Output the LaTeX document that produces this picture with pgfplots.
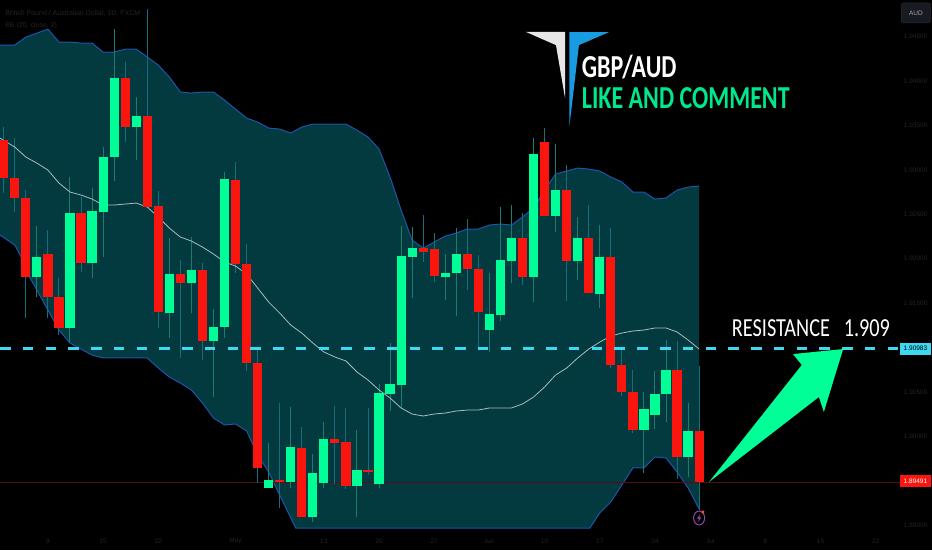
\documentclass[border=0pt]{standalone}
\usepackage{fontspec}
\usepackage{pgfplots}
\usepackage{pgfplotstable}
\pgfplotsset{compat=1.18}
\usepgfplotslibrary{fillbetween}
\setmainfont{Liberation Sans}
\newfontfamily\banner{Carlito}

\definecolor{bandfill}{RGB}{2,58,64}
\definecolor{bandline}{RGB}{30,84,170}
\definecolor{midline}{RGB}{165,190,190}
\definecolor{candleup}{RGB}{0,255,150}
\definecolor{candledown}{RGB}{250,22,14}
\definecolor{wickup}{RGB}{28,125,110}
\definecolor{wickdown}{RGB}{22,110,125}
\definecolor{resline}{RGB}{62,216,240}
\definecolor{lastline}{RGB}{85,14,20}
\definecolor{dimtext}{RGB}{36,36,36}
\definecolor{logoblue}{RGB}{24,155,224}
\definecolor{logogray}{RGB}{230,230,230}
\definecolor{bannergreen}{RGB}{0,232,140}
\definecolor{iconpurple}{RGB}{150,70,170}

% candles, as daily prices
\pgfplotstableread{
i open close high low
3 1.91794 1.92020 1.92368 1.91570
6 1.91222 1.92513 1.92918 1.91053
8 1.91952 1.92536 1.92795 1.91783
9 1.92525 1.93143 1.93255 1.92020
10 1.93143 1.94030 1.94581 1.92873
12 1.93480 1.93604 1.93817 1.93109
15 1.91390 1.91828 1.92233 1.91109
17 1.91727 1.91873 1.92244 1.91390
19 1.91076 1.91233 1.91435 1.90446
20 1.91233 1.92896 1.92975 1.91109
24 1.89424 1.89514 1.89929 1.89424
26 1.89491 1.89885 1.90334 1.89424
28 1.89098 1.89592 1.89806 1.89042
29 1.89480 1.89974 1.90166 1.89424
32 1.89446 1.89626 1.90076 1.89098
34 1.89469 1.90491 1.90592 1.89424
35 1.90480 1.90592 1.91053 1.90289
36 1.90581 1.92031 1.92368 1.90323
37 1.92020 1.92120 1.92356 1.91559
40 1.91794 1.91839 1.92053 1.91536
41 1.91839 1.92053 1.92345 1.91356
44 1.91199 1.91379 1.91839 1.90952
45 1.91368 1.91986 1.92581 1.91300
46 1.91975 1.92233 1.92604 1.91727
48 1.91794 1.93177 1.93356 1.91514
50 1.92480 1.92772 1.93289 1.92300
52 1.91975 1.92233 1.92469 1.91761
54 1.91604 1.92020 1.92379 1.91446
58 1.90076 1.90311 1.90503 1.89592
59 1.90244 1.90480 1.90739 1.90087
60 1.90480 1.90750 1.91087 1.90166
62 1.89772 1.90065 1.90379 1.89547
}\upbars
\pgfplotstableread{
i open close high low
0 1.93334 1.92907 1.93480 1.92738
1 1.92907 1.92682 1.93356 1.92525
2 1.92682 1.91794 1.92772 1.91334
4 1.92053 1.91570 1.92323 1.91334
5 1.91570 1.91222 1.91783 1.91143
7 1.92513 1.91952 1.92693 1.91851
11 1.94030 1.93480 1.94211 1.93312
13 1.93604 1.92581 1.94806 1.92570
14 1.92593 1.91402 1.92761 1.91222
16 1.91828 1.91727 1.91986 1.90885
18 1.91873 1.91076 1.91952 1.90862
21 1.92885 1.91941 1.93087 1.91839
22 1.91941 1.90828 1.92165 1.90738
23 1.90828 1.89649 1.90974 1.89480
25 1.89514 1.89491 1.90379 1.89199
27 1.89873 1.89098 1.90109 1.89098
30 1.89974 1.89929 1.90345 1.89469
31 1.89941 1.89446 1.90323 1.89412
33 1.89626 1.89604 1.90323 1.89570
38 1.92120 1.92075 1.92491 1.91963
39 1.92109 1.91806 1.92289 1.91739
42 1.92053 1.91884 1.92446 1.91649
43 1.91884 1.91402 1.92042 1.90997
47 1.92233 1.91794 1.92513 1.91705
49 1.93312 1.92480 1.93469 1.92480
51 1.92772 1.91975 1.93053 1.91525
53 1.92233 1.91615 1.92604 1.91615
55 1.92020 1.90806 1.92345 1.90772
56 1.90806 1.90503 1.90974 1.90458
57 1.90503 1.90076 1.90750 1.90042
61 1.90750 1.89772 1.91076 1.89525
63 1.90065 1.89491 1.90795 1.89177
}\downbars

% bollinger bands
\pgfplotstableread{
i p
-0.34 1.94402
1 1.94402
2 1.94491
3 1.94536
4 1.94581
5 1.94435
6 1.94435
7 1.94424
8 1.94424
9 1.94323
10 1.94323
11 1.94356
12 1.94356
13 1.94267
14 1.94177
15 1.94042
16 1.93874
17 1.93862
18 1.93874
19 1.93874
20 1.93783
21 1.93682
22 1.93581
23 1.93536
24 1.93469
25 1.93457
26 1.93413
27 1.93480
28 1.93514
29 1.93514
30 1.93514
31 1.93514
32 1.93446
33 1.93368
34 1.93233
35 1.92918
36 1.92547
37 1.92210
38 1.92120
39 1.92188
40 1.92255
41 1.92289
42 1.92334
43 1.92334
44 1.92379
45 1.92390
46 1.92379
47 1.92469
48 1.92570
49 1.92772
50 1.92952
51 1.92986
52 1.93019
53 1.93008
54 1.92986
55 1.92918
56 1.92862
57 1.92750
58 1.92750
59 1.92671
60 1.92682
61 1.92772
62 1.92806
63 1.92817
}\upperband
\pgfplotstableread{
i p
-0.34 1.93356
1 1.93255
2 1.93143
3 1.93075
4 1.92997
5 1.92851
6 1.92750
7 1.92716
8 1.92671
9 1.92604
10 1.92604
11 1.92615
12 1.92626
13 1.92581
14 1.92469
15 1.92345
16 1.92244
17 1.92199
18 1.92132
19 1.92053
20 1.91963
21 1.91918
22 1.91828
23 1.91671
24 1.91514
25 1.91390
26 1.91255
27 1.91165
28 1.91053
29 1.90952
30 1.90896
31 1.90851
32 1.90727
33 1.90637
34 1.90525
35 1.90435
36 1.90323
37 1.90255
38 1.90233
39 1.90255
40 1.90266
41 1.90289
42 1.90300
43 1.90300
44 1.90323
45 1.90323
46 1.90323
47 1.90368
48 1.90446
49 1.90559
50 1.90694
51 1.90772
52 1.90885
53 1.90985
54 1.91064
55 1.91132
56 1.91165
57 1.91188
58 1.91199
59 1.91222
60 1.91222
61 1.91177
62 1.91087
63 1.90985
}\midband
\pgfplotstableread{
i p
-0.34 1.92267
1 1.92154
1.63 1.92008
2.24 1.91817
3 1.91649
4 1.91424
5 1.91199
6 1.91053
7 1.90985
8 1.90918
9 1.90885
13 1.90885
14 1.90772
15 1.90671
16 1.90603
17 1.90525
18 1.90379
19 1.90211
20 1.90132
21 1.90143
22 1.90065
23 1.89795
24 1.89604
25 1.89345
26 1.89087
26.45 1.88974
53.1 1.88974
54 1.89143
55 1.89267
56 1.89458
57 1.89649
58 1.89649
59 1.89772
60 1.89761
61 1.89604
62 1.89424
63 1.89188
}\lowerband

\begin{document}
\begin{tikzpicture}
\begin{axis}[
    width=932pt, height=550pt, scale only axis,
    xmin=-0.3324, xmax=84.09,
    ymin=1.88727, ymax=1.94907,
    axis background/.style={fill=black},
    axis line style={draw=none},
    major tick length=0pt,
    xtick={4,9,14,21,29,34,39,44,49,54,59,64,69,74,79},
    xticklabels={9,15,22,May,13,20,27,Jun,10,17,24,Jul,8,15,22},
    xticklabel style={anchor=south, yshift=3pt, font=\fontsize{6.5}{8}\selectfont, text=dimtext},
    ytick={1.89,1.90,1.905,1.915,1.92,1.925,1.93,1.935,1.94,1.945},
    yticklabel pos=right,
    yticklabel style={anchor=east, xshift=-1pt, font=\fontsize{6.5}{8}\selectfont, text=dimtext,
        /pgf/number format/.cd, fixed, fixed zerofill, precision=5, assume math mode=true},
    scaled y ticks=false,
    unbounded coords=jump,
]

% band fill and its outlines
\addplot[draw=none, name path=upper, forget plot] table[x=i, y=p] \upperband;
\addplot[draw=none, name path=lower, forget plot] table[x=i, y=p] \lowerband;
\addplot[bandfill, forget plot] fill between[of=upper and lower];
\addplot[line width=1pt, bandline] table[x=i, y=p] \upperband;
\addplot[line width=1pt, bandline, x filter/.expression={x>26.5 && x<53 ? nan : x}] table[x=i, y=p] \lowerband;

% last price line
\addplot[line width=0.6pt, lastline] coordinates {(-0.3324,1.89491) (81.2,1.89491)};

% wicks
\addplot[draw=none, no markers, error bars/.cd, y dir=plus, y explicit, error mark=none,
    error bar style={line width=1pt, wickup}]
    table[x=i, y=low, y error plus expr=\thisrow{high}-\thisrow{low}] \upbars;
\addplot[draw=none, no markers, error bars/.cd, y dir=plus, y explicit, error mark=none,
    error bar style={line width=1pt, wickdown}]
    table[x=i, y=low, y error plus expr=\thisrow{high}-\thisrow{low}] \downbars;

% basis line
\addplot[line width=0.8pt, midline] table[x=i, y=p] \midband;

% bodies
\addplot[draw=none, no markers, error bars/.cd, y dir=plus, y explicit, error mark=none,
    error bar style={line width=9.2pt, candleup}]
    table[x=i, y=open, y error plus expr=\thisrow{close}-\thisrow{open}] \upbars;
\addplot[draw=none, no markers, error bars/.cd, y dir=plus, y explicit, error mark=none,
    error bar style={line width=9.2pt, candledown}]
    table[x=i, y=close, y error plus expr=\thisrow{open}-\thisrow{close}] \downbars;

% resistance level
\addplot[line width=2.4pt, resline, dash pattern=on 10.5pt off 12.26pt]
    coordinates {(-0.3324,1.9099) (81.1,1.9099)};

% arrow
\addplot[fill=candleup, draw=none] coordinates {
    (76.05,1.90985) (71.5,1.90929) (72.3,1.90806) (63.9,1.89491)
    (73.85,1.90446) (74.3,1.90278) (76.05,1.90985)} -- cycle;

% logo
\addplot[fill=logogray, draw=none] coordinates {
    (47.28,1.94551) (50.85,1.94551) (50.85,1.93806) (50.03,1.94401)} -- cycle;
\addplot[fill=logoblue, draw=none] coordinates {
    (51.24,1.94547) (54.83,1.94547) (52.11,1.94401) (51.24,1.93480)} -- cycle;

% banner text
\node[anchor=west, inner sep=0pt, text=white] at (axis cs:52.36,1.94154)
    {\scalebox{0.75}[1]{\banner\bfseries\fontsize{32}{32}\selectfont GBP/AUD}};
\node[anchor=west, inner sep=0pt, text=bannergreen] at (axis cs:52.36,1.93800)
    {\scalebox{0.75}[1]{\banner\bfseries\fontsize{32}{32}\selectfont LIKE AND COMMENT}};
\node[anchor=west, inner sep=0pt, text=white] at (axis cs:65.95,1.91222)
    {\scalebox{0.78}[1]{\banner\fontsize{26}{26}\selectfont RESISTANCE\ \ \ 1.909}};

% header text
\node[anchor=west, inner sep=0pt, text=dimtext, font=\fontsize{7}{9}\selectfont] at (axis cs:0.12,1.94761)
    {British Pound / Australian Dollar, 1D, FXCM};
\node[anchor=west, inner sep=0pt, text=dimtext, font=\fontsize{7}{9}\selectfont] at (axis cs:0.12,1.94615)
    {BB (20, close, 2)};

% price tags
\node[fill=resline, text=black, inner sep=0pt, minimum width=31pt, minimum height=12pt,
    font=\fontsize{6.5}{8}\selectfont] at (axis cs:82.6,1.9099) {1.90983};
\node[fill=candledown, text=white, inner sep=0pt, minimum width=31pt, minimum height=12pt,
    font=\fontsize{6.5}{8}\selectfont] at (axis cs:82.6,1.89497) {1.89491};
\definecolor{audfill}{RGB}{24,26,34}
\definecolor{audedge}{RGB}{42,44,52}
\node[fill=audfill, draw=audedge, rounded corners=2pt, text=black!35!white, inner sep=0pt,
    minimum width=29pt, minimum height=20pt, font=\fontsize{6.5}{8}\selectfont]
    at (axis cs:82.64,1.94764) {AUD};

% alert icon
\draw[iconpurple, line width=1pt] (axis cs:63,1.89087) circle[x radius=5.5pt, y radius=7pt];
\fill[iconpurple] (axis cs:63,1.89087) ++(1.2pt,4pt) -- ++(-3.4pt,-4.6pt) -- ++(2.2pt,0pt)
    -- ++(-1.2pt,-3.6pt) -- ++(3.4pt,4.8pt) -- ++(-2.2pt,0pt) -- cycle;
\fill[red!70!white] (axis cs:63.35,1.89155) circle[radius=1.6pt];
\end{axis}
\end{tikzpicture}
\end{document}
